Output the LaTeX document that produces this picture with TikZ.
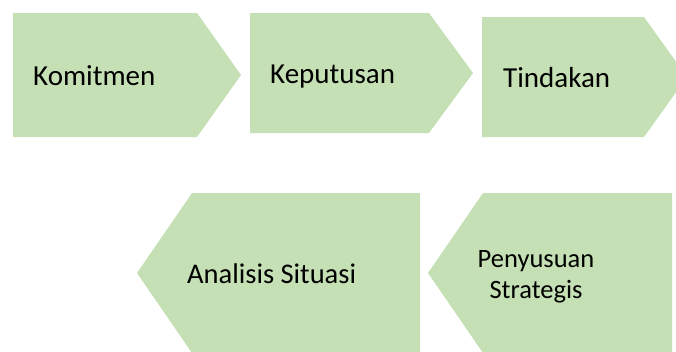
\documentclass[tikz,border=0pt]{standalone}
\usepackage{fontspec}
\setmainfont{Carlito}
\definecolor{chevgreen}{HTML}{C5E0B4}
\tikzset{
  chev/.style={fill=chevgreen, draw=none},
  lbl/.style={anchor=base west, inner sep=0pt, font=\fontsize{29}{33}\selectfont},
  lblsmall/.style={anchor=base, inner sep=0pt, align=center, font=\fontsize{26.5}{31}\selectfont}
}
\begin{document}
\begin{tikzpicture}[x=1pt,y=-1pt]
\useasboundingbox (0,0) rectangle (676,351);
\clip (0,0) rectangle (676,351);
% top row, pointing right
\path[chev] (13,13) -- (197,13) -- (241,75) -- (197,137) -- (13,137) -- cycle;
\path[chev] (250,13) -- (429,13) -- (473,73) -- (429,133) -- (250,133) -- cycle;
\path[chev] (482,17) -- (644,17) -- (687,77) -- (644,137) -- (482,137) -- cycle;
% bottom row, pointing left
\path[chev] (137,273) -- (192,193) -- (420,193) -- (420,353) -- (192,353) -- cycle;
\path[chev] (428,273) -- (483,193) -- (672,193) -- (672,353) -- (483,353) -- cycle;
% labels
\node[lbl] (komitmen) at (33,85) {Komitmen};
\node[lbl] (keputusan) at (270,83) {Keputusan};
\node[lbl] (tindakan) at (503,87) {Tindakan};
\node[lbl, font=\fontsize{28.5}{33}\selectfont] (analisis) at (187,283) {Analisis Situasi};
\node[lblsmall] (penyusuan) at (536,267) {Penyusuan};
\node[lblsmall] (strategis) at (536,298) {Strategis};
\end{tikzpicture}
\end{document}
